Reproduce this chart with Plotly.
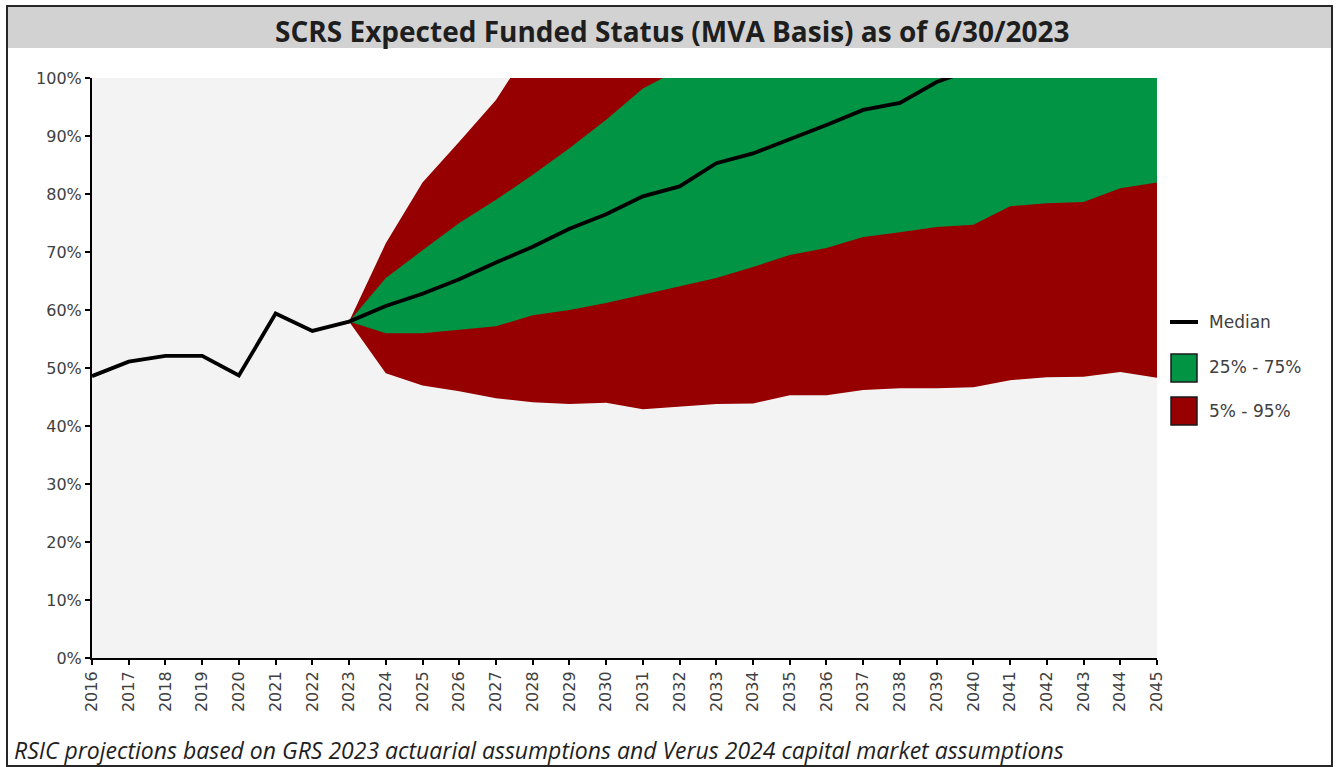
import plotly.graph_objects as go

# ---------------- data ----------------
hist_years = [2016, 2017, 2018, 2019, 2020, 2021, 2022, 2023, 2024, 2025, 2026, 2027, 2028, 2029, 2030,
              2031, 2032, 2033, 2034, 2035, 2036, 2037, 2038, 2039, 2040, 2041, 2042, 2043, 2044, 2045]
median = [48.6, 51.1, 52.1, 52.1, 48.7, 59.4, 56.4, 58.0, 60.7, 62.8, 65.3, 68.2, 70.9, 74.0, 76.5,
          79.6, 81.3, 85.3, 87.0, 89.4, 91.9, 94.5, 95.7, 99.3, 101.6, 104.2, 106.5, 108.1, 110.8, 112.4]

proj_years = [2023, 2024, 2025, 2026, 2027, 2028, 2029, 2030, 2031, 2032, 2033, 2034, 2035, 2036,
              2037, 2038, 2039, 2040, 2041, 2042, 2043, 2044, 2045]
p5 = [58.0, 49.1, 47.0, 46.0, 44.8, 44.1, 43.8, 44.0, 42.9, 43.4, 43.8, 43.9, 45.3, 45.3,
      46.2, 46.5, 46.5, 46.7, 47.9, 48.4, 48.5, 49.3, 48.3]
p25 = [58.0, 56.0, 56.0, 56.6, 57.2, 59.1, 60.0, 61.2, 62.6, 64.0, 65.5, 67.4, 69.5, 70.7,
       72.6, 73.4, 74.3, 74.7, 77.9, 78.4, 78.6, 81.0, 82.0]
p75 = [58.0, 65.5, 70.3, 75.0, 79.0, 83.3, 87.9, 92.8, 98.2, 101.5, 105.2, 108.4, 111.9, 114.7,
       118.3, 120.6, 124.1, 126.9, 130.5, 133.2, 135.8, 139.4, 142.1]
p95 = [58.0, 71.5, 82.0, 89.0, 96.2, 106.0, 112.3, 118.9, 124.6, 131.2, 136.8, 143.5, 148.7, 155.1,
       160.9, 166.2, 172.8, 178.4, 185.0, 190.3, 197.1, 202.6, 209.4]

title_text = "SCRS Expected Funded Status (MVA Basis) as of 6/30/2023"
footer_text = "RSIC projections based on GRS 2023 actuarial assumptions and Verus 2024 capital market assumptions"
legend_labels = ["Median", "25% - 75%", "5% - 95%"]

# ---------------- style ----------------
W, H = 1337, 767
L, R, T, B = 92, 1157, 78, 658
RED = "#960000"
GREEN = "#009444"
TICK_FONT = dict(family="DejaVu Sans", size=16, color="#404040")


def px(x):
    return (x - L) / (R - L)


def py(y):
    return (B - y) / (B - T)


fig = go.Figure()

# 5% - 95% band
fig.add_trace(go.Scatter(x=proj_years, y=p5, mode="lines", line=dict(width=0, color=RED),
                         showlegend=False, hoverinfo="skip"))
fig.add_trace(go.Scatter(x=proj_years, y=p95, mode="lines", line=dict(width=0, color=RED),
                         fill="tonexty", fillcolor=RED, showlegend=False, name=legend_labels[2]))
# 25% - 75% band
fig.add_trace(go.Scatter(x=proj_years, y=p25, mode="lines", line=dict(width=0, color=GREEN),
                         showlegend=False, hoverinfo="skip"))
fig.add_trace(go.Scatter(x=proj_years, y=p75, mode="lines", line=dict(width=0, color=GREEN),
                         fill="tonexty", fillcolor=GREEN, showlegend=False, name=legend_labels[1]))
# median
fig.add_trace(go.Scatter(x=hist_years, y=median, mode="lines", line=dict(width=3.8, color="black"),
                         showlegend=False, name=legend_labels[0]))

fig.update_xaxes(range=[hist_years[0], hist_years[-1]], tickmode="array", tickvals=hist_years,
                 ticktext=[str(y) for y in hist_years], tickangle=-90, ticks="outside", ticklen=5,
                 tickcolor="black", tickwidth=1.5, showline=True, linecolor="black", linewidth=2,
                 showgrid=False, zeroline=False, tickfont=TICK_FONT)
fig.update_yaxes(range=[0, 100], dtick=10, ticksuffix="%", ticks="outside", ticklen=5,
                 tickcolor="black", tickwidth=1.5, showline=True, linecolor="black", linewidth=2,
                 showgrid=False, zeroline=False, tickfont=TICK_FONT)

shapes = [
    # title bar
    dict(type="rect", xref="paper", yref="paper", x0=px(7), x1=px(1332), y0=py(48), y1=py(6),
         fillcolor="#d2d2d2", line=dict(width=0), layer="below"),
    # outer frame
    dict(type="rect", xref="paper", yref="paper", x0=px(7), x1=px(1332), y0=py(766), y1=py(6),
         fillcolor="rgba(0,0,0,0)", line=dict(width=2, color="#262626")),
    # legend symbols
    dict(type="line", xref="paper", yref="paper", x0=px(1170), x1=px(1198), y0=py(322), y1=py(322),
         line=dict(width=4, color="black")),
    dict(type="rect", xref="paper", yref="paper", x0=px(1171), x1=px(1197), y0=py(382), y1=py(354),
         fillcolor=GREEN, line=dict(width=1.5, color="#1a1a1a")),
    dict(type="rect", xref="paper", yref="paper", x0=px(1171), x1=px(1197), y0=py(425), y1=py(397),
         fillcolor=RED, line=dict(width=1.5, color="#1a1a1a")),
]

annotations = [
    dict(text="<b>" + title_text + "</b>", xref="paper", yref="paper", x=px(672), y=py(31),
         xanchor="center", yanchor="middle", showarrow=False,
         font=dict(family="Open Sans", size=28, color="#1e1e1e")),
    dict(text="<i>" + footer_text + "</i>", xref="paper", yref="paper", x=px(12), y=py(750),
         xanchor="left", yanchor="middle", showarrow=False,
         font=dict(family="Open Sans", size=23, color="#1e1e1e")),
]
for lab, yy in zip(legend_labels, [322, 367, 411]):
    annotations.append(dict(text=lab, xref="paper", yref="paper", x=px(1207), y=py(yy),
                            xanchor="left", yanchor="middle", showarrow=False,
                            font=dict(family="DejaVu Sans", size=17, color="#404040")))

fig.update_layout(width=W, height=H, margin=dict(l=L, r=W - R, t=T, b=H - B),
                  paper_bgcolor="white", plot_bgcolor="#f3f3f3",
                  shapes=shapes, annotations=annotations, showlegend=False)

fig.write_html("out.html", config={"displayModeBar": False},
               post_script="document.body.style.margin='0';document.body.style.overflow='hidden';")
